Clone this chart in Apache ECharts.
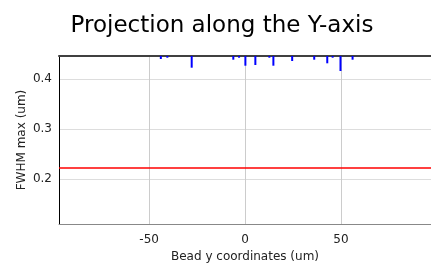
<!DOCTYPE html>
<html><head><meta charset="utf-8">
<script src="https://cdn.jsdelivr.net/npm/echarts@6/dist/echarts.min.js"></script>
<style>html,body{margin:0;padding:0;background:#fff}#c{width:431px;height:272px}</style>
</head><body><div id="c"></div>
<script>
const beadY = [-43.9, -40.5, -27.8, -6.1, -3.1, 0.2, 5.4, 12.7, 14.8, 24.6, 36.1, 42.9, 45.7, 49.8, 56.1];
const fwhmLow = [0.440, 0.4426, 0.4226, 0.4386, 0.4426, 0.4266, 0.428, 0.4426, 0.4266, 0.436, 0.4386, 0.4314, 0.4426, 0.416, 0.4386];
const threshold = 0.222;
const xTicks = [-50, 0, 50];
const yTicks = [0.2, 0.3, 0.4];
const xRange = [-97, 97];
const yRange = [0.11, 0.446];

const chart = echarts.init(document.getElementById('c'), null, {renderer: 'canvas'});
const font = 'DejaVu Sans, sans-serif';
chart.setOption({
  animation: false,
  title: {text: 'Projection along the Y-axis', left: 217, top: 10, textAlign: 'center',
    textStyle: {fontFamily: font, fontSize: 23, fontWeight: 'normal', color: '#000'}},
  grid: {left: 59, top: 56, right: 0, bottom: 48},
  xAxis: [{
    type: 'value', min: xRange[0], max: xRange[1], position: 'bottom',
    name: 'Bead y coordinates (um)', nameLocation: 'middle', nameGap: 27,
    nameTextStyle: {fontFamily: font, fontSize: 12, color: '#222'},
    axisLine: {show: true, onZero: false, lineStyle: {color: '#888', width: 1}},
    axisTick: {show: false, customValues: xTicks},
    axisLabel: {customValues: xTicks, fontFamily: font, fontSize: 12, color: '#222', margin: 10},
    splitLine: {show: true, lineStyle: {color: '#ccc', width: 1}}
  }, {
    type: 'value', min: xRange[0], max: xRange[1], position: 'top',
    axisLine: {show: true, onZero: false, lineStyle: {color: '#404040', width: 2}},
    axisTick: {show: false}, axisLabel: {show: false}, splitLine: {show: false}
  }],
  yAxis: {
    type: 'value', min: yRange[0], max: yRange[1],
    name: 'FWHM max (um)', nameLocation: 'middle', nameGap: 31, nameMoveOverlap: false,
    nameTextStyle: {fontFamily: font, fontSize: 12, color: '#222'},
    axisLine: {show: true, onZero: false, lineStyle: {color: '#000', width: 1}},
    axisTick: {show: false, customValues: yTicks},
    axisLabel: {customValues: yTicks, fontFamily: font, fontSize: 12, color: '#222', margin: 7,
      formatter: v => v.toFixed(1)},
    splitLine: {show: true, lineStyle: {color: '#ddd', width: 1}}
  },
  series: [{
    type: 'line', data: [[xRange[0], threshold], [xRange[1], threshold]],
    symbol: 'none', lineStyle: {color: '#ff0000', width: 1.5}, silent: true
  }, {
    type: 'custom', clip: true,
    data: beadY.map((x, i) => [x, fwhmLow[i]]),
    renderItem: (params, api) => {
      const p0 = api.coord([api.value(0), api.value(1)]);
      const p1 = api.coord([api.value(0), yRange[1]]);
      return {type: 'line', shape: {x1: p0[0], y1: p0[1], x2: p1[0], y2: p1[1]},
        style: {stroke: '#0000ff', lineWidth: 2}};
    }
  }]
});
</script></body></html>
